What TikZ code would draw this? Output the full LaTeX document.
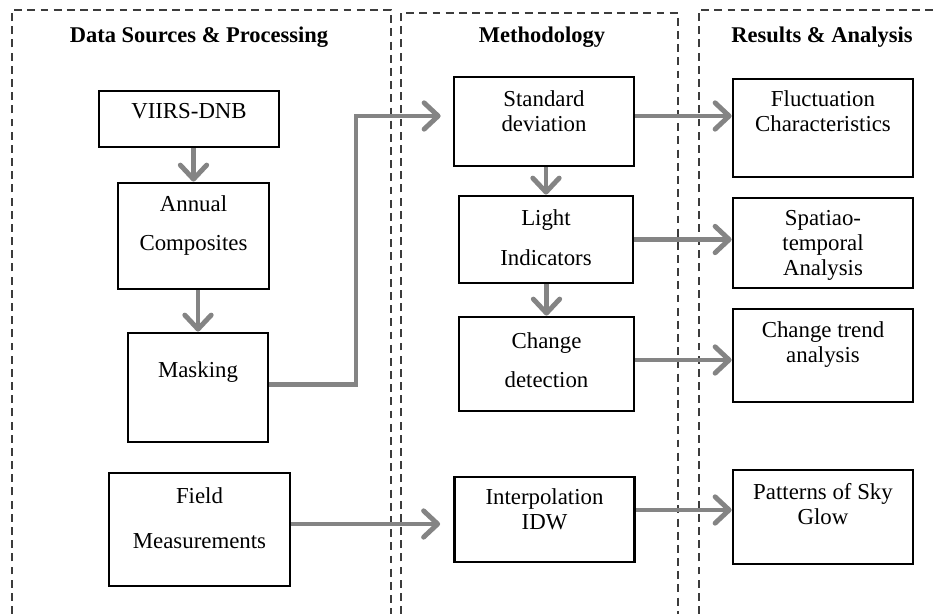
\documentclass[tikz,border=0pt]{standalone}
\usepackage{fontspec}
\setmainfont{Liberation Serif}
\usetikzlibrary{arrows.meta, positioning, calc}
\definecolor{arrowgray}{RGB}{132,132,132}
\definecolor{dashgray}{RGB}{60,60,60}

\begin{document}
\begin{tikzpicture}
  [
    x=0.02cm, y=-0.02cm,
    every node/.style={font=\fontsize{13}{14.3}\selectfont},
    align=center
  ]
  \tikzset{
    >={Straight Barb[length=8pt,width=15pt,round]},
    base/.style = {rectangle, draw=black, line width=1.6pt},
    block/.style = {base, minimum width=3.6cm},
    txt/.style = {anchor=north, inner sep=0pt, yshift=-0.28cm, align=center}, % text sits near the top
    flow/.style = {->, draw=arrowgray, line width=2.8pt},
    panel/.style = {draw=dashgray, line width=1.1pt, dash pattern=on 4.5pt off 3pt},
    heading/.style = {anchor=base, font=\fontsize{12.8}{14.5}\selectfont\bfseries},
  }
  \useasboundingbox (0,0) rectangle (938,614);

  % the three columns
  \draw[panel] (12,614) -- (12,10) -- (391,10) -- (391,614);
  \draw[panel] (401,614) -- (401,13) -- (678,13) -- (678,614);
  \draw[panel] (699,614) -- (699,10) -- (938,10);

  \node (hdata) [heading] at (199,43) {Data Sources \& Processing};
  \node (hmeth) [heading] at (542,43) {Methodology};
  \node (hres) [heading] at (822,43) {Results \& Analysis};

  % data sources
  \node (viirs) [block, minimum height=1.12cm, label={[txt,yshift=0.02cm]north:VIIRS-DNB}] at (189,119) {};
  \node (annual) [block, minimum width=3.02cm, minimum height=2.12cm, label={[txt]north:{Annual\\[8pt]Composites}}] at (193.5,236) {};
  \node (mask) [block, minimum width=2.8cm, minimum height=2.18cm, label={[txt,yshift=-0.32cm]north:Masking}] at (198,387.5) {};
  \node (field) [block, minimum width=3.62cm, minimum height=2.26cm, label={[txt,yshift=-0.04cm]north:{Field\\[11pt]Measurements}}] at (199.5,529.5) {};

  % methodology
  \node (std) [block, minimum height=1.78cm, label={[txt,yshift=-0.02cm]north:{Standard\\deviation}}] at (544,121.5) {};
  \node (light) [block, minimum width=3.48cm, minimum height=1.74cm, label={[txt,yshift=-0.02cm]north:{Light\\[8.5pt]Indicators}}] at (546,239.5) {};
  \node (change) [block, minimum width=3.5cm, minimum height=1.88cm, label={[txt,yshift=-0.06cm]north:{Change\\[8pt]detection}}] at (546.5,364) {};
  \node (interp) [block, minimum height=1.7cm, label={[txt,yshift=0.02cm]north:{Interpolation\\IDW}}] at (544.5,519.5) {};

  % results
  \node (fluct) [block, minimum height=1.96cm, label={[txt,yshift=0.02cm]north:{Fluctuation\\Characteristics}}] at (823,128) {};
  \node (spat) [block, minimum height=1.8cm, label={[txt,yshift=0.02cm]north:{Spatiao-\\temporal\\Analysis}}] at (823,243) {};
  \node (trend) [block, minimum height=1.86cm, label={[txt]north:{Change trend\\analysis}}] at (823,355.5) {};
  \node (sky) [block, minimum height=1.88cm, label={[txt]north:{Patterns of Sky\\Glow}}] at (823,517) {};

  \coordinate (maskout) at ([yshift=0.06cm]mask.east);
  \coordinate (fieldout) at ([yshift=0.11cm]field.east);
  \coordinate (stdout) at ([yshift=0.11cm]std.east);
  \coordinate (changeout) at ([yshift=0.08cm]change.east);
  \coordinate (interpout) at ([yshift=0.19cm]interp.east);
  \coordinate (bend) at (356,116);

  \draw[flow] (annual.north |- viirs.south) -- (annual.north);
  \draw[flow] (mask.north |- annual.south) -- (mask.north);
  \draw[flow] (light.north |- std.south) -- (light.north);
  \draw[flow] (change.north |- light.south) -- (change.north);

  \draw[flow, shorten >=0.24cm] (maskout) -| (bend) -- (std.west |- bend);
  \draw[flow, shorten >=0.26cm] (fieldout) -- (interp.west |- fieldout);

  \draw[flow] (stdout) -- (fluct.west |- stdout);
  \draw[flow] (light.east) -- (spat.west |- light.east);
  \draw[flow] (changeout) -- (trend.west |- changeout);
  \draw[flow] (interpout) -- (sky.west |- interpout);
\end{tikzpicture}
\end{document}
